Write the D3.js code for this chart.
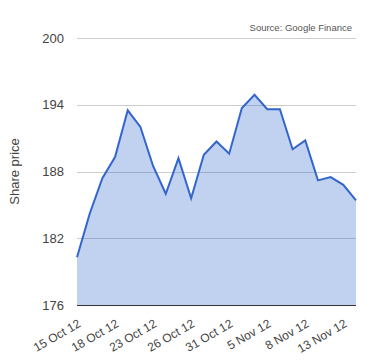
<!DOCTYPE html>
<html>
<head>
<meta charset="utf-8">
<script src="https://cdn.jsdelivr.net/npm/d3@7"></script>
<style>
  body { margin: 0; background: #fff; }
  text { font-family: "Liberation Sans", Arial, sans-serif; }
</style>
</head>
<body>
<div id="chart"></div>
<script>
// Données
const dates = ["15 Oct 12", "16 Oct 12", "17 Oct 12", "18 Oct 12", "19 Oct 12", "22 Oct 12",
    "23 Oct 12", "24 Oct 12", "25 Oct 12", "26 Oct 12", "29 Oct 12", "30 Oct 12",
    "31 Oct 12", "1 Nov 12", "2 Nov 12", "5 Nov 12", "6 Nov 12", "7 Nov 12",
    "8 Nov 12", "9 Nov 12", "12 Nov 12", "13 Nov 12", "14 Nov 12"];
const prices = [180.3, 184.2, 187.4, 189.3, 193.5, 192.0, 188.5, 186.0, 189.2, 185.6, 189.5, 190.7,
    189.6, 193.7, 194.9, 193.6, 193.6, 190.0, 190.8, 187.2, 187.5, 186.8, 185.4];
const yTicks = [176, 182, 188, 194, 200];
const xLabels = ["15 Oct 12", "18 Oct 12", "23 Oct 12", "26 Oct 12", "31 Oct 12", "5 Nov 12", "8 Nov 12", "13 Nov 12"];

const data = dates.map((d, i) => ({date: d, value: prices[i]}));

const margin = {top: 38, right: 24, bottom: 55, left: 77};
const W = 380, H = 360;
const width = W - margin.left - margin.right;
const height = H - margin.top - margin.bottom;

const svg = d3.select("#chart")
    .append("svg")
    .attr("width", W)
    .attr("height", H);

const g = svg.append("g")
    .attr("transform", "translate(" + margin.left + "," + margin.top + ")");

// Échelles
const x = d3.scalePoint()
    .domain(dates)
    .range([0, width]);

const y = d3.scaleLinear()
    .domain([176, 200])
    .range([height, 0]);

// Grille
g.append("g")
    .selectAll("line")
    .data(yTicks.slice(1))
    .enter().append("line")
    .attr("x1", 0)
    .attr("x2", width)
    .attr("y1", d => Math.round(y(d)) + 0.5)
    .attr("y2", d => Math.round(y(d)) + 0.5)
    .attr("stroke", "#cccccc");

// Aire + ligne
const area = d3.area()
    .x(d => x(d.date))
    .y0(y(176))
    .y1(d => y(d.value));

const line = d3.line()
    .x(d => x(d.date))
    .y(d => y(d.value));

g.append("path")
    .datum(data)
    .attr("d", area)
    .attr("fill", "#3366cc")
    .attr("fill-opacity", 0.3);

g.append("path")
    .datum(data)
    .attr("d", line)
    .attr("fill", "none")
    .attr("stroke", "#3366cc")
    .attr("stroke-width", 2)
    .attr("stroke-linejoin", "miter");

// Axe Y
const yAxis = g.append("g")
    .call(d3.axisLeft(y).tickValues(yTicks).tickSize(0).tickPadding(13));
yAxis.select(".domain").remove();
yAxis.selectAll("text")
    .attr("fill", "#444")
    .style("font-size", "13px");

// Ligne de base
g.append("line")
    .attr("x1", 0)
    .attr("x2", width)
    .attr("y1", height + 0.5)
    .attr("y2", height + 0.5)
    .attr("stroke", "#333")
    .attr("stroke-width", 1);

// Axe X
const xAxis = g.append("g")
    .attr("transform", "translate(0," + height + ")")
    .call(d3.axisBottom(x).tickValues(xLabels).tickSize(0).tickPadding(0));
xAxis.select(".domain").remove();
xAxis.selectAll("text")
    .attr("fill", "#444")
    .style("font-size", "12px")
    .attr("text-anchor", "end")
    .attr("dy", 0)
    .attr("y", 0)
    .attr("transform", "translate(4,21) rotate(-30)");

// Titre de l'axe Y
svg.append("text")
    .attr("transform", "translate(19," + (margin.top + height / 2) + ") rotate(-90)")
    .attr("text-anchor", "middle")
    .attr("fill", "#444")
    .style("font-size", "13px")
    .text("Share price");

// Source
svg.append("text")
    .attr("x", 352)
    .attr("y", 31)
    .attr("text-anchor", "end")
    .attr("fill", "#555")
    .style("font-size", "9.5px")
    .text("Source: Google Finance");
</script>
</body>
</html>
